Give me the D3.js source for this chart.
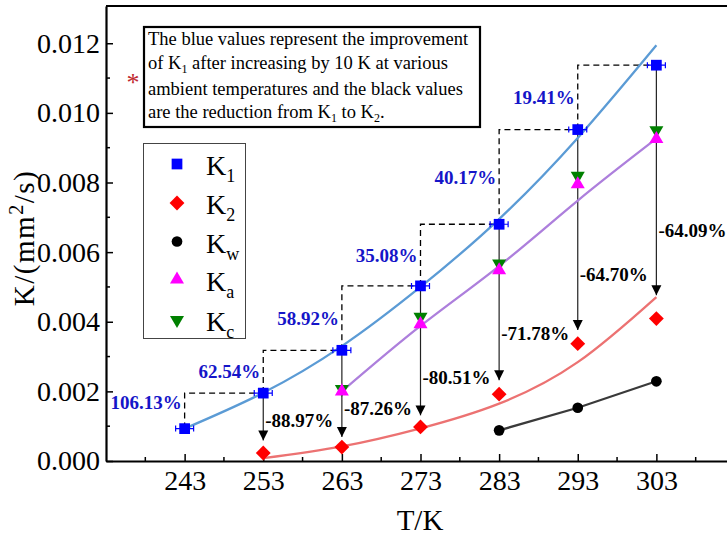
<!DOCTYPE html>
<html>
<head>
<meta charset="utf-8">
<script src="https://cdn.jsdelivr.net/npm/d3@7"></script>
<style>
  body { margin: 0; background: #fff; }
  svg text { font-family: "Liberation Serif", "Times New Roman", serif; }
</style>
</head>
<body>
<svg id="chart" width="727" height="536"></svg>
<script>
// temperatures (K)
let temps = [243, 253, 263, 273, 283, 293, 303];
let xTicks = [243, 253, 263, 273, 283, 293, 303];
let yTicks = [0, 0.002, 0.004, 0.006, 0.008, 0.010, 0.012];

// measured points
let k1 = [0.00093, 0.00195, 0.00318, 0.00503, 0.0068, 0.00952, 0.01137];
let k2Temps = [253, 263, 273, 283, 293, 303];
let k2 = [0.00023, 0.0004, 0.00098, 0.00192, 0.00337, 0.00409];
let kwTemps = [283, 293, 303];
let kw = [0.00088, 0.00153, 0.00229];
let kaTemps = [263, 273, 283, 293, 303];
let ka = [0.00200, 0.00393, 0.00548, 0.00795, 0.00925];
let kcTemps = [263, 273, 283, 293, 303];
let kc = [0.00207, 0.00414, 0.00567, 0.00819, 0.0095];

// fitted curves
let fit1 = [0.00093, 0.00196, 0.00330, 0.00500, 0.00695, 0.00928, 0.01194];
let fit2Temps = [253, 263, 273, 283, 293, 303];
let fit2 = [0.00008, 0.00042, 0.00094, 0.00165, 0.00284, 0.00471];
let fitaTemps = [263, 273, 283, 293, 303];
let fita = [0.00200, 0.00388, 0.0056, 0.00748, 0.00926];

// annotations
let upLabels = ["106.13%", "62.54%", "58.92%", "35.08%", "40.17%", "19.41%"];
let downLabels = ["-88.97%", "-87.26%", "-80.51%", "-71.78%", "-64.70%", "-64.09%"];
let arrowTip = [0.00059, 0.00069, 0.00131, 0.00232, 0.00376, 0.00476];
let noteLines = [
  ["The blue values represent the improvement"],
  ["of K", "1", " after increasing by 10 K at various"],
  ["ambient temperatures and the black values"],
  ["are the reduction from K", "1", " to K", "2", "."]
];
let legendNames = [["K", "1"], ["K", "2"], ["K", "w"], ["K", "a"], ["K", "c"]];

let svg = d3.select("#chart");
let mLeft = 106, mTop = 6, mBottom = 461, mRight = 735;

let xScale = d3.scaleLinear().domain([233, 313]).range([mLeft, mRight]);
let yScale = d3.scaleLinear().domain([0, 0.01307]).range([mBottom, mTop]);

let defs = svg.append("defs");
defs.append("marker")
    .attr("id", "arrow")
    .attr("viewBox", "0 0 10 10")
    .attr("refX", 10).attr("refY", 5)
    .attr("markerWidth", 10).attr("markerHeight", 11)
    .attr("markerUnits", "userSpaceOnUse")
    .attr("orient", "auto")
    .append("path")
    .attr("d", "M0,0 L10,5 L0,10 Z")
    .attr("fill", "#000");

// frame top line
svg.append("line")
    .attr("x1", mLeft).attr("x2", 727)
    .attr("y1", mTop).attr("y2", mTop)
    .attr("stroke", "#000").attr("stroke-width", 2);

// axes (ticks pointing inward)
let xAxis = d3.axisBottom(xScale).tickValues(xTicks).tickSizeInner(-7).tickSizeOuter(0).tickPadding(9).tickFormat(d3.format("d"));
let yAxis = d3.axisLeft(yScale).tickValues(yTicks).tickSizeInner(-7).tickSizeOuter(0).tickPadding(6).tickFormat(d3.format(".3f"));

let gx = svg.append("g").attr("transform", "translate(0," + mBottom + ")").call(xAxis);
let gy = svg.append("g").attr("transform", "translate(" + mLeft + ",0)").call(yAxis);

[gx, gy].forEach(function(g) {
    g.select(".domain").attr("stroke-width", 2.2);
    g.selectAll(".tick line").attr("stroke-width", 1.5);
    g.selectAll("text")
        .style("font-family", "'Liberation Serif', serif")
        .style("font-size", "28px")
        .attr("fill", "#000");
});

// minor ticks
let xMinor = d3.range(238, 313, 10);
svg.append("g").selectAll("line").data(xMinor).enter().append("line")
    .attr("x1", (d) => xScale(d)).attr("x2", (d) => xScale(d))
    .attr("y1", mBottom).attr("y2", mBottom - 4)
    .attr("stroke", "#000").attr("stroke-width", 1.5);
let yMinor = [0.001, 0.003, 0.005, 0.007, 0.009, 0.011];
svg.append("g").selectAll("line").data(yMinor).enter().append("line")
    .attr("x1", mLeft).attr("x2", mLeft + 4)
    .attr("y1", (d) => yScale(d)).attr("y2", (d) => yScale(d))
    .attr("stroke", "#000").attr("stroke-width", 1.5);

// axis titles
let yTitle = svg.append("text")
    .attr("transform", "translate(34,238) rotate(-90)")
    .attr("text-anchor", "middle")
    .style("font-size", "29px")
    .style("letter-spacing", "1.5px");
yTitle.append("tspan").text("K/(mm");
yTitle.append("tspan").attr("baseline-shift", "super").style("font-size", "20px").text("2");
yTitle.append("tspan").text("/s)");

svg.append("text")
    .attr("x", 420).attr("y", 530)
    .attr("text-anchor", "middle")
    .style("font-size", "29px")
    .text("T/K");

// dashed step lines for K1 increase
let steps = d3.range(temps.length - 1);
svg.append("g").selectAll("path").data(steps).enter().append("path")
    .attr("d", (i) => "M" + xScale(temps[i]) + "," + yScale(k1[i]) +
        "V" + yScale(k1[i + 1]) + "H" + xScale(temps[i + 1]))
    .attr("fill", "none")
    .attr("stroke", "#000")
    .attr("stroke-width", 1.3)
    .attr("stroke-dasharray", "6,4");

// arrows from K1 down to K2
svg.append("g").selectAll("line").data(k2Temps).enter().append("line")
    .attr("x1", (d) => xScale(d)).attr("x2", (d) => xScale(d))
    .attr("y1", (d, i) => yScale(k1[i + 1]))
    .attr("y2", (d, i) => yScale(arrowTip[i]))
    .attr("stroke", "#222")
    .attr("stroke-width", 1.2)
    .attr("marker-end", "url(#arrow)");

// fitted curves
let line = d3.line()
    .x((d) => xScale(d[0]))
    .y((d) => yScale(d[1]))
    .curve(d3.curveNatural);

svg.append("path").datum(d3.zip(temps, fit1))
    .attr("d", line).attr("fill", "none")
    .attr("stroke", "#5b9bd5").attr("stroke-width", 2.3);
svg.append("path").datum(d3.zip(fitaTemps, fita))
    .attr("d", line).attr("fill", "none")
    .attr("stroke", "#ad7fdc").attr("stroke-width", 2.3);
svg.append("path").datum(d3.zip(fit2Temps, fit2))
    .attr("d", line).attr("fill", "none")
    .attr("stroke", "#ec7272").attr("stroke-width", 2.3);
svg.append("path").datum(d3.zip(kwTemps, kw))
    .attr("d", d3.line().x((d) => xScale(d[0])).y((d) => yScale(d[1])))
    .attr("fill", "none")
    .attr("stroke", "#3a3a3a").attr("stroke-width", 2.3);

// markers
let shapes = [
    { type: d3.symbolSquare, size: 115, color: "#0000ff", rot: 0 },
    { type: d3.symbolSquare, size: 110, color: "#ff0000", rot: 45 },
    { type: d3.symbolCircle, size: 90, color: "#000000", rot: 0 },
    { type: d3.symbolTriangle, size: 85, color: "#ff00ff", rot: 0 },
    { type: d3.symbolTriangle, size: 85, color: "#008000", rot: 180 }
];

function drawPoints(xs, ys, s) {
    svg.append("g").selectAll("path").data(d3.zip(xs, ys)).enter().append("path")
        .attr("d", d3.symbol().type(s.type).size(s.size))
        .attr("transform", (d) => "translate(" + xScale(d[0]) + "," + yScale(d[1]) + ") rotate(" + s.rot + ")")
        .attr("fill", s.color);
}

// small error bars on K1
let eb = svg.append("g");
temps.forEach(function(t, i) {
    let cx = xScale(t), cy = yScale(k1[i]);
    eb.append("path")
        .attr("d", "M" + (cx - 9) + "," + cy + "H" + (cx + 9) +
            "M" + (cx - 9) + "," + (cy - 3) + "V" + (cy + 3) +
            "M" + (cx + 9) + "," + (cy - 3) + "V" + (cy + 3))
        .attr("stroke", "#0000ff").attr("stroke-width", 1.2).attr("fill", "none");
});

drawPoints(kcTemps, kc, shapes[4]);
drawPoints(kaTemps, ka, shapes[3]);
drawPoints(kwTemps, kw, shapes[2]);
drawPoints(k2Temps, k2, shapes[1]);
drawPoints(temps, k1, shapes[0]);

// blue improvement labels
svg.append("g").selectAll("text").data(upLabels).enter().append("text")
    .attr("x", (d, i) => xScale(temps[i]) - 3)
    .attr("y", (d, i) => (yScale(k1[i]) + yScale(k1[i + 1])) / 2 - (i === 0 ? 9 : 0))
    .attr("dy", "0.35em")
    .attr("text-anchor", "end")
    .style("font-size", "19px")
    .style("font-weight", "bold")
    .attr("fill", "#1515c8")
    .text((d) => d);

// black reduction labels
svg.append("g").selectAll("text").data(downLabels).enter().append("text")
    .attr("x", (d, i) => xScale(k2Temps[i]) + 2)
    .attr("y", (d, i) => yScale(arrowTip[i]) - 20 - 9 * i)
    .attr("dy", "0.35em")
    .style("font-size", "19px")
    .style("font-weight", "bold")
    .attr("fill", "#000")
    .text((d) => d);

// note box
svg.append("rect")
    .attr("x", 144).attr("y", 27)
    .attr("width", 336).attr("height", 100)
    .attr("fill", "#fff").attr("stroke", "#000").attr("stroke-width", 2.2);
let noteY = [45, 69, 95, 118];
noteLines.forEach(function(parts, li) {
    let t = svg.append("text")
        .attr("x", 148).attr("y", noteY[li])
        .style("font-size", "18.5px");
    parts.forEach(function(p, pi) {
        let sp = t.append("tspan").text(p);
        if (pi % 2 === 1) sp.attr("dy", 4).style("font-size", "12px");
        else if (pi > 0) sp.attr("dy", -4);
    });
});
svg.append("text")
    .attr("x", 133).attr("y", 91)
    .attr("text-anchor", "middle")
    .style("font-size", "26px")
    .attr("fill", "#c0282d")
    .text("*");

// legend
svg.append("rect")
    .attr("x", 143.5).attr("y", 143.5)
    .attr("width", 102).attr("height", 195)
    .attr("fill", "#fff").attr("stroke", "#444").attr("stroke-width", 1);
let rowY = [164, 203, 241.5, 279.5, 320];
legendNames.forEach(function(n, i) {
    let s = shapes[i];
    svg.append("path")
        .attr("d", d3.symbol().type(s.type).size(s.size))
        .attr("transform", "translate(177," + rowY[i] + ") rotate(" + s.rot + ")")
        .attr("fill", s.color);
    let t = svg.append("text")
        .attr("x", 206).attr("y", rowY[i] + 11)
        .style("font-size", "28px");
    t.append("tspan").text(n[0]);
    t.append("tspan").attr("dy", 7).style("font-size", "18px").text(n[1]);
});
</script>
</body>
</html>
